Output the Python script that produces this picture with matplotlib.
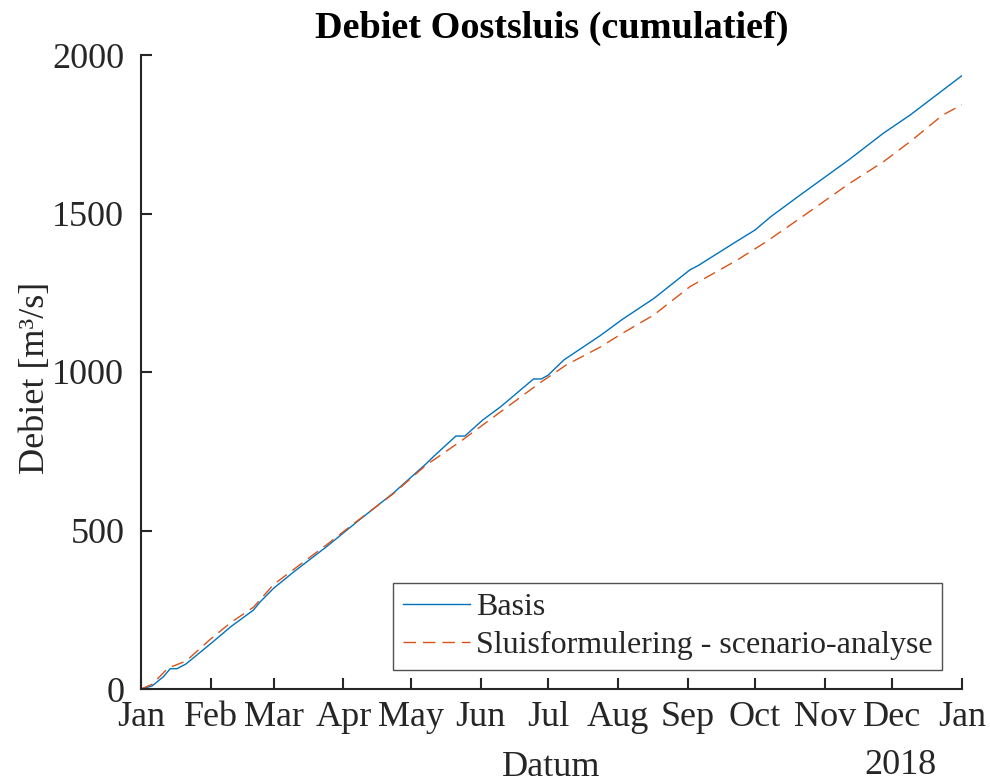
import numpy as np
import pandas as pd
import matplotlib
matplotlib.use("Agg")
import matplotlib.pyplot as plt
import matplotlib.dates as mdates

plt.rcParams['font.family'] = ['Liberation Serif', 'DejaVu Serif']

start = pd.Timestamp('2017-01-01')

# cumulative discharge, days since 1 Jan 2017
basis_days = [0, 5, 10, 13, 16, 20, 31, 40, 50, 53, 59, 68, 82.5, 97, 112, 115, 127, 130,
              140, 144, 152, 160, 174.5, 178, 181, 188, 204, 214, 228, 244, 248, 265, 273,
              280, 293, 315, 330, 342, 365]
basis = [0, 10, 39, 64, 64, 79, 143, 197, 249, 275, 318, 370, 449, 533, 617, 636, 712, 733,
         798, 798, 849, 891, 978, 978, 990, 1038, 1114, 1166, 1232, 1322, 1337, 1413, 1448,
         1490, 1558, 1671, 1753, 1811, 1935]

scen_days = [0, 5, 12, 20, 31, 40, 50, 59, 68, 82.5, 97, 112, 127, 130, 143, 160, 177, 189,
             204, 214, 228, 244, 265, 278, 293, 315, 330, 342, 356.5, 365]
scen = [0, 15, 66, 88, 158, 210, 258, 330, 378, 455, 535, 615, 708, 722, 786, 875, 964, 1022,
        1078, 1122, 1180, 1269, 1353, 1411, 1485, 1595, 1663, 1727, 1811, 1843]

labels = ['Basis', 'Sluisformulering - scenario-analyse']
yticks = [0, 500, 1000, 1500, 2000]

t_basis = start + pd.to_timedelta(basis_days, unit='D')
t_scen = start + pd.to_timedelta(scen_days, unit='D')

txt = '#262626'
fig = plt.figure(figsize=(9.9, 7.83), dpi=100)
ax = fig.add_axes([141/990, 1 - 689/783, (962 - 141)/990, (689 - 55)/783])

ax.plot(t_basis, basis, color='#0072BD', lw=1.0, label=labels[0])
ax.plot(t_scen, scen, color='#D95319', lw=1.0, dashes=(9, 5), label=labels[1])

ax.set_xlim(start, pd.Timestamp('2018-01-01'))
ax.set_ylim(0, 2000)
ax.set_yticks(yticks)
ax.xaxis.set_major_locator(mdates.MonthLocator())
ax.xaxis.set_major_formatter(mdates.DateFormatter('%b'))

for s in ['top', 'right']:
    ax.spines[s].set_visible(False)
for s in ['left', 'bottom']:
    ax.spines[s].set_linewidth(1.5)
    ax.spines[s].set_color(txt)
ax.tick_params(direction='in', length=8, width=1.5, colors=txt, labelsize=26)
ax.tick_params(axis='x', pad=9)
ax.tick_params(axis='y', pad=12)

ax.set_title('Debiet Oostsluis (cumulatief)', fontsize=27.5, fontweight='bold', color='black', pad=12)
ax.set_ylabel('Debiet [m³/s]', fontsize=26, color=txt, va='center')
ax.yaxis.set_label_coords(-0.129, 0.49)
ax.set_xlabel('Datum', fontsize=26, color=txt, va='center')
ax.xaxis.set_label_coords(0.5, -0.1246)
ax.text(0.9245, -0.12, '2018', transform=ax.transAxes, ha='center', va='center', fontsize=26, color=txt)

leg = ax.legend(loc='lower right', bbox_to_anchor=(0.976, 0.03), fontsize=23, frameon=True,
                fancybox=False, edgecolor='#262626', handlelength=2.1, borderpad=0.3,
                labelspacing=0.28, handletextpad=0.2, borderaxespad=0)
leg.get_frame().set_linewidth(1.0)
for t in leg.get_texts():
    t.set_color(txt)

fig.savefig('out.png', dpi=100)
